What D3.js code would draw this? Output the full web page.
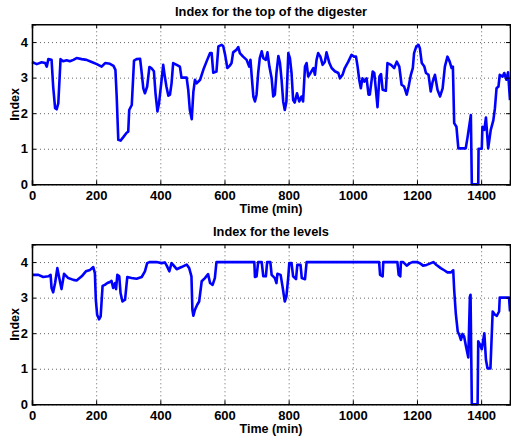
<!DOCTYPE html>
<html>
<head>
<meta charset="utf-8">
<script src="https://cdn.jsdelivr.net/npm/d3@7"></script>
<style>
  body { margin: 0; background: #fff; }
  svg { display: block; font-family: "Liberation Sans", Arial, sans-serif; font-weight: bold; }
</style>
</head>
<body>
<div id="diagram"></div>
<script>
var width = 511;
var height = 441;

// time (min) / index for the top of the digester
var topTime = [0,15,30,41,46,51,61,66,72,77,82,89,97,108,118,129,139,155,170,186,202,217,228,243,254,260,264,269,276,284,295,300,303,311,318,326,337,342,347,352,359,366,372,380,385,391,396,404,409,414,419,425,430,435,440,451,461,466,482,487,492,498,503,508,513,524,534,544,555,560,565,575,581,591,596,602,609,616,622,627,637,643,648,658,669,677,681,685,690,695,700,705,710,716,721,729,734,740,747,752,757,762,768,773,778,783,788,793,799,804,809,814,819,826,833,840,845,851,856,861,868,877,882,887,892,899,906,913,918,927,934,944,955,960,968,975,986,996,1004,1010,1015,1020,1025,1030,1036,1043,1049,1053,1062,1067,1072,1077,1083,1088,1093,1103,1108,1119,1129,1137,1145,1152,1160,1168,1174,1181,1187,1191,1198,1205,1209,1215,1223,1228,1236,1243,1249,1256,1264,1272,1280,1287,1295,1302,1308,1312,1316,1323,1329,1352,1358,1368,1371,1391,1392,1402,1404,1410,1415,1422,1430,1438,1443,1448,1454,1458,1467,1472,1479,1484,1487,1490];
var topIndex = [3.44,3.38,3.43,3.41,3.31,3.52,3.50,2.75,2.14,2.11,2.28,3.52,3.46,3.49,3.46,3.50,3.55,3.52,3.50,3.44,3.38,3.31,3.41,3.39,3.33,3.22,2.47,1.25,1.23,1.32,1.45,1.48,2.09,2.23,3.48,3.52,3.53,3.13,2.70,2.56,2.75,3.30,3.27,3.18,2.56,2.05,2.28,2.94,3.36,3.03,2.75,2.49,2.52,2.84,3.41,3.36,3.31,3.00,3.00,2.66,2.09,1.83,2.60,2.94,2.84,2.94,3.22,3.45,3.69,3.69,3.14,3.17,3.88,3.92,3.89,3.64,3.27,3.33,3.41,3.71,3.78,3.86,3.69,3.59,3.50,3.31,3.50,3.03,2.47,2.33,2.52,3.13,3.55,3.74,3.55,3.50,3.71,3.31,2.98,2.47,2.52,3.13,3.61,3.41,2.94,2.33,2.09,2.33,3.69,3.55,3.13,2.37,2.30,2.56,2.33,2.47,2.33,3.31,3.41,3.03,3.13,3.27,3.08,3.50,3.69,3.59,3.36,3.45,3.71,3.41,3.27,3.18,3.13,2.98,3.08,3.27,3.45,3.64,3.59,3.59,3.31,2.94,2.70,2.98,2.89,2.98,2.52,2.52,3.17,3.13,2.66,2.17,3.03,3.10,2.66,2.63,3.41,3.36,3.27,3.45,3.31,2.80,2.75,2.52,2.75,3.08,3.27,3.69,3.88,3.92,3.83,3.41,3.31,3.13,3.08,2.61,2.89,3.08,2.66,2.47,2.70,3.31,3.59,3.45,3.27,3.31,1.72,1.62,1.01,1.01,1.34,1.95,0,0,1.00,1.00,1.62,1.53,1.88,1.01,1.53,1.80,2.14,2.70,2.75,3.08,3.03,3.13,2.94,3.15,2.75,2.37];

// time (min) / index for the levels
var levelTime = [0,20,35,51,58,61,66,72,79,85,92,100,113,129,139,155,168,181,191,196,199,203,209,214,220,227,235,243,248,253,259,262,266,272,276,282,290,297,310,326,342,352,359,366,388,404,414,420,428,435,440,451,466,482,490,497,500,503,508,515,521,529,539,549,555,563,570,575,693,695,700,705,716,721,729,733,743,747,757,762,765,775,781,788,793,799,802,809,814,823,827,837,841,851,856,1082,1085,1093,1095,1139,1143,1148,1150,1157,1168,1178,1186,1202,1212,1219,1230,1238,1251,1261,1274,1285,1295,1306,1313,1316,1321,1327,1332,1337,1342,1347,1353,1360,1365,1367,1371,1389,1391,1397,1402,1410,1415,1420,1429,1436,1443,1449,1456,1458,1487,1490];
var levelIndex = [3.64,3.64,3.58,3.60,3.64,3.27,3.15,3.41,3.83,3.55,3.24,3.67,3.55,3.50,3.48,3.60,3.74,3.78,3.86,3.69,2.94,2.52,2.39,2.47,3.33,3.36,3.41,3.44,3.47,3.27,3.41,3.24,3.64,3.60,3.13,2.89,2.94,3.58,3.55,3.53,3.58,3.74,3.97,4.0,4.0,3.97,3.99,3.90,3.74,3.97,3.92,3.80,3.86,3.93,3.83,3.60,2.66,2.49,2.66,2.80,2.89,3.46,3.55,3.66,3.41,3.36,3.55,4.0,4.0,3.58,3.60,4.0,4.0,3.60,3.60,4.0,4.0,3.64,3.55,3.41,3.67,3.64,3.31,2.89,3.03,3.60,3.97,3.97,3.60,3.52,3.92,3.92,3.55,3.52,4.0,4.0,3.64,3.60,4.0,4.0,3.64,3.60,4.0,4.0,3.90,3.97,4.0,4.0,3.95,3.90,3.92,3.95,4.0,3.92,3.83,3.77,3.71,3.71,3.77,3.22,2.56,2.05,1.95,1.81,1.98,1.91,1.62,1.32,3.03,3.08,0,0,1.77,1.67,1.55,2.0,1.25,1.01,1.01,2.61,2.52,2.49,2.61,3.0,3.0,2.61];

var xTicks = [0,200,400,600,800,1000,1200,1400];
var yTicks = [0,1,2,3,4];
var xMax = 1490;
var yMax = 4.5;

var panels = [
  {title: "Index for the top of the digester", time: topTime, index: topIndex, top: 24.3},
  {title: "Index for the levels", time: levelTime, index: levelIndex, top: 244.3}
];

var left = 32;
var right = 510;
var plotH = 160;

function buildChart(){
  var svg = d3.create("svg")
      .attr("width", width)
      .attr("height", height);

  panels.forEach((p) => {
    var x = d3.scaleLinear().domain([0, xMax]).range([left, right]);
    var y = d3.scaleLinear().domain([0, yMax]).range([p.top + plotH, p.top]);
    var g = svg.append("g");

    // dotted grid
    g.append("g")
        .attr("class", "grid")
        .attr("transform", `translate(0,${p.top + plotH})`)
        .call(d3.axisBottom(x).tickValues(xTicks).tickSize(-plotH).tickFormat(""));
    g.append("g")
        .attr("class", "grid")
        .attr("transform", `translate(${left},0)`)
        .call(d3.axisLeft(y).tickValues(yTicks).tickSize(-(right - left)).tickFormat(""));
    g.selectAll(".grid .domain").remove();
    g.selectAll(".grid line")
        .attr("stroke", "#666")
        .attr("stroke-dasharray", "1,3");

    // data line
    var line = d3.line()
        .x((d, i) => x(p.time[i]))
        .y((d) => y(d));
    g.append("path")
        .datum(p.index)
        .attr("fill", "none")
        .attr("stroke", "#0000ff")
        .attr("stroke-width", 2.6)
        .attr("stroke-linejoin", "round")
        .attr("d", line);

    // axes, ticks pointing inward like matlab
    g.append("g")
        .attr("transform", `translate(0,${p.top + plotH})`)
        .call(d3.axisBottom(x).tickValues(xTicks).tickSize(-4).tickPadding(6.5).tickFormat(d3.format("d")));
    g.append("g")
        .attr("transform", `translate(${left},0)`)
        .call(d3.axisLeft(y).tickValues(yTicks).tickSize(-4).tickPadding(4).tickFormat(d3.format("d")));
    g.append("g")
        .attr("transform", `translate(0,${p.top})`)
        .call(d3.axisTop(x).tickValues(xTicks).tickSize(-4).tickFormat(""));
    g.append("g")
        .attr("transform", `translate(${right},0)`)
        .call(d3.axisRight(y).tickValues(yTicks).tickSize(-4).tickFormat(""));
    g.selectAll(".domain").attr("stroke", "#000").attr("stroke-width", 1.5);
    g.selectAll(".tick text")
        .attr("fill", "#000")
        .style("font-size", "13px")
        .style("font-weight", "bold");

    g.append("text")
        .attr("x", (left + right) / 2)
        .attr("y", p.top - 8.5)
        .attr("text-anchor", "middle")
        .style("font-size", "12.8px")
        .text(p.title);
    g.append("text")
        .attr("x", (left + right) / 2)
        .attr("y", p.top + plotH + 28.5)
        .attr("text-anchor", "middle")
        .style("font-size", "12.5px")
        .text("Time (min)");
    g.append("text")
        .attr("transform", `translate(18.5,${p.top + plotH / 2}) rotate(-90)`)
        .attr("text-anchor", "middle")
        .style("font-size", "12.5px")
        .text("Index");
  });
  return svg.node();
}

document.getElementById('diagram').append(buildChart());
</script>
</body>
</html>
